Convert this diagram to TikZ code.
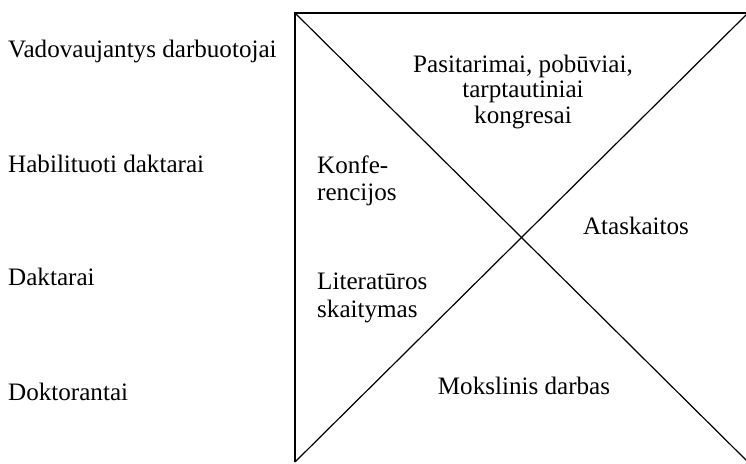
\documentclass[tikz,border=0pt]{standalone}
\usepackage{fontspec}
\setmainfont{Liberation Serif}
\begin{document}
\begin{tikzpicture}[x=1bp,y=-1bp,
  lbl/.style={inner sep=0pt,font=\fontsize{25.2}{27.5}\selectfont},
  edge/.style={line width=1.2bp,black}]
\useasboundingbox (0,0) rectangle (746,464);
\coordinate (tl) at (295,13);
\coordinate (bl) at (295,462);
\coordinate (tr) at (748,13);
\coordinate (br) at (748,462);
\draw[edge] (bl) -- (tl) -- (tr);
\draw[edge] (tl) -- (br);
\draw[edge] (bl) -- (tr);
\node[lbl,anchor=base west] (v) at (8,58) {Vadovaujantys darbuotojai};
\node[lbl,anchor=base west] (h) at (8,173) {Habilituoti daktarai};
\node[lbl,anchor=base west] (d) at (8,286) {Daktarai};
\node[lbl,anchor=base west] (dk) at (8,400) {Doktorantai};
\node[lbl,align=center,font=\fontsize{25.2}{26}\selectfont] (p) at (523,92) {Pasitarimai, pobūviai,\\tarptautiniai\\kongresai};
\node[lbl,align=left,anchor=west] (k) at (317,181) {Konfe-\\rencijos};
\node[lbl] (a) at (636,226) {Ataskaitos};
\node[lbl,align=left,anchor=west] (l) at (317,298) {Literatūros\\skaitymas};
\node[lbl] (m) at (524,386) {Mokslinis darbas};
\end{tikzpicture}
\end{document}
